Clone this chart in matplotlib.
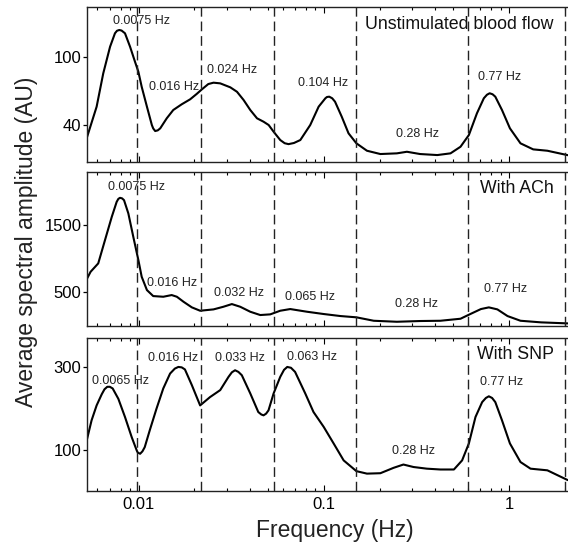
import matplotlib
matplotlib.use('Agg')
import matplotlib.pyplot as plt

plt.rcParams['font.family'] = ['Liberation Sans', 'DejaVu Sans']

# spectra, frequency in Hz and amplitude in AU
freq_rest = [0.00528, 0.00594, 0.00645, 0.00702, 0.00746, 0.00765, 0.00787, 0.0081, 0.00845, 0.0090,
             0.00957, 0.00998, 0.0104, 0.0111, 0.0118, 0.0120, 0.0123, 0.0127, 0.0131, 0.0142,
             0.0154, 0.0171, 0.0190, 0.0206, 0.0220, 0.0238, 0.0254, 0.0276, 0.0313, 0.0340,
             0.0369, 0.0401, 0.0436, 0.0473, 0.0504, 0.0536, 0.0582, 0.0615, 0.0645, 0.069,
             0.0747, 0.0845, 0.0938, 0.102, 0.104, 0.107, 0.111, 0.115, 0.125, 0.136,
             0.150, 0.171, 0.202, 0.248, 0.281, 0.331, 0.410, 0.483, 0.547, 0.607,
             0.671, 0.731, 0.76, 0.786, 0.815, 0.843, 0.916, 1.011, 1.153, 1.35,
             1.61, 2.06, 2.16]
amp_rest = [29.7, 56.1, 85.4, 108.8, 120.6, 122.8, 123.5, 123.0, 120.6, 108.8,
            95.6, 86.8, 73.6, 56.1, 40.0, 37.0, 34.7, 35.3, 37.1, 45.9,
            53.2, 58.2, 62.6, 67.3, 71.4, 76.0, 77.2, 76.6, 73.1, 69.2,
            62.0, 53.2, 45.9, 42.9, 40.0, 34.1, 26.8, 24.0, 23.2, 24.2,
            26.8, 40.0, 56.1, 63.5, 64.6, 64.9, 63.5, 60.5, 47.3, 32.7,
            23.9, 17.4, 14.5, 15.1, 16.5, 14.5, 13.6, 15.1, 20.9, 31.2,
            50.3, 63.5, 66.6, 67.9, 67.0, 64.9, 53.2, 37.1, 23.9, 18.6,
            17.4, 13.6, 13.0]

freq_ach = [0.00528, 0.00551, 0.00606, 0.00659, 0.00717, 0.00762, 0.00778, 0.00794, 0.00815, 0.00835,
            0.00881, 0.00937, 0.00998, 0.0104, 0.0111, 0.0120, 0.0136, 0.0151, 0.0161, 0.0175,
            0.0194, 0.0215, 0.0254, 0.0287, 0.0319, 0.0354, 0.0401, 0.0454, 0.0514, 0.0582,
            0.0659, 0.0812, 0.0999, 0.123, 0.150, 0.186, 0.248, 0.331, 0.426, 0.547,
            0.618, 0.705, 0.778, 0.865, 0.981, 1.153, 1.49, 2.06, 2.16]
amp_ach = [708, 806, 931, 1277, 1623, 1846, 1890, 1906, 1898, 1871,
           1674, 1326, 980, 732, 534, 445, 435, 460, 435, 360,
           277, 227, 247, 286, 326, 286, 212, 163, 173, 227,
           252, 212, 178, 148, 129, 78, 63, 74, 78, 108,
           178, 252, 277, 247, 148, 78, 54, 39, 37]

freq_snp = [0.00528, 0.00558, 0.00594, 0.00633, 0.00655, 0.00678, 0.0070, 0.00725, 0.00778, 0.00845,
            0.00919, 0.00978, 0.0099, 0.0102, 0.0105, 0.0108, 0.0115, 0.0125, 0.0136, 0.0148,
            0.0157, 0.0164, 0.0171, 0.0178, 0.0194, 0.0215, 0.0243, 0.0276, 0.0306, 0.0319,
            0.0332, 0.0346, 0.0361, 0.0401, 0.0443, 0.046, 0.0473, 0.0488, 0.0503, 0.0536,
            0.0582, 0.061, 0.0635, 0.0665, 0.0700, 0.0794, 0.0880, 0.0999, 0.113, 0.128,
            0.150, 0.171, 0.202, 0.238, 0.269, 0.305, 0.360, 0.426, 0.504, 0.558,
            0.607, 0.659, 0.716, 0.75, 0.778, 0.81, 0.843, 0.916, 1.011, 1.153,
            1.306, 1.61, 2.06, 2.16]
amp_snp = [126.6, 171, 207, 234, 246, 252, 252, 248, 223, 179,
           130, 98, 93, 90, 96, 106, 147, 199, 248, 284,
           296, 300, 299, 294, 256, 207, 227, 244, 276, 287,
           292, 288, 280, 236, 191, 185, 183, 187, 195, 236,
           276, 293, 300, 298, 288, 236, 191, 155, 115, 74,
           48, 42, 43, 56, 64, 58, 54, 52, 52, 74,
           115, 179, 215, 225, 229, 225, 215, 171, 115, 70,
           54, 50, 27, 24]

band_edges = [0.0098, 0.0218, 0.0536, 0.15, 0.6, 2.0]

panel_titles = ['Unstimulated blood flow', 'With ACh', 'With SNP']
panel_ylims = [(7.5, 143.7), (0, 2290), (0, 370)]
panel_yticks = [[40, 100], [500, 1500], [100, 300]]

# peak labels: (text, freq, amplitude)
peaks_rest = [('0.0075 Hz', 0.0104, 131.4), ('0.016 Hz', 0.0156, 73.4), ('0.024 Hz', 0.0320, 88.3),
              ('0.104 Hz', 0.0989, 76.9), ('0.28 Hz', 0.320, 32.1), ('0.77 Hz', 0.889, 82.2)]
peaks_ach = [('0.0075 Hz', 0.00969, 2065), ('0.016 Hz', 0.0151, 638), ('0.032 Hz', 0.0347, 490),
             ('0.065 Hz', 0.0840, 430), ('0.28 Hz', 0.318, 326), ('0.77 Hz', 0.957, 549)]
peaks_snp = [('0.0065 Hz', 0.00804, 265), ('0.016 Hz', 0.0154, 321), ('0.033 Hz', 0.0351, 321),
             ('0.063 Hz', 0.0867, 323), ('0.28 Hz', 0.305, 96), ('0.77 Hz', 0.910, 263)]

series = [(freq_rest, amp_rest, peaks_rest),
          (freq_ach, amp_ach, peaks_ach),
          (freq_snp, amp_snp, peaks_snp)]

W, H = 568, 545
fig = plt.figure(figsize=(W / 100, H / 100), dpi=100)

# panel rows in pixels: (top, bottom)
rows = [(7, 162), (172, 326), (338, 491)]
x0, x1 = 87, 571

for i, ((f, a, peaks), (top, bot)) in enumerate(zip(series, rows)):
    ax = fig.add_axes([x0 / W, 1 - bot / H, (x1 - x0) / W, (bot - top) / H])
    ax.plot(f, a, color='black', lw=1.5, solid_joinstyle='round')
    ax.set_xscale('log')
    ax.set_xlim(0.00527, 2.16)
    ax.set_ylim(*panel_ylims[i])
    for b in band_edges:
        ax.axvline(b, color='#222222', lw=1.0, dashes=(7, 3.5))

    for label, fx, ay in peaks:
        ax.text(fx, ay, label, ha='center', va='center', fontsize=9, color='#222222')
    ax.text(1.74, panel_ylims[i][1] - (panel_ylims[i][1] - panel_ylims[i][0]) * 0.11,
            panel_titles[i], ha='right', va='center', fontsize=12.8, color='#111111')

    ax.set_yticks(panel_yticks[i])
    ax.tick_params(axis='y', direction='out', length=3, width=0.9, pad=1, labelsize=12)
    ax.tick_params(axis='x', which='both', direction='in', top=True, bottom=True, width=0.8)
    ax.tick_params(axis='x', which='major', length=4, pad=4, labelsize=12)
    ax.tick_params(axis='x', which='minor', length=2.5)
    ax.set_xticks([0.01, 0.1, 1])
    if i == 2:
        ax.set_xticklabels(['0.01', '0.1', '1'])
    else:
        ax.set_xticklabels([])
    for s in ax.spines.values():
        s.set_linewidth(1.0)
        s.set_color('#222222')

fig.text(27 / W, 1 - 242 / H, 'Average spectral amplitude (AU)', rotation=90,
         ha='center', va='center', fontsize=16.5, color='#222222')
fig.text(335 / W, 1 - 530 / H, 'Frequency (Hz)', ha='center', va='center',
         fontsize=16.5, color='#222222')

fig.savefig('out.png', dpi=100)
